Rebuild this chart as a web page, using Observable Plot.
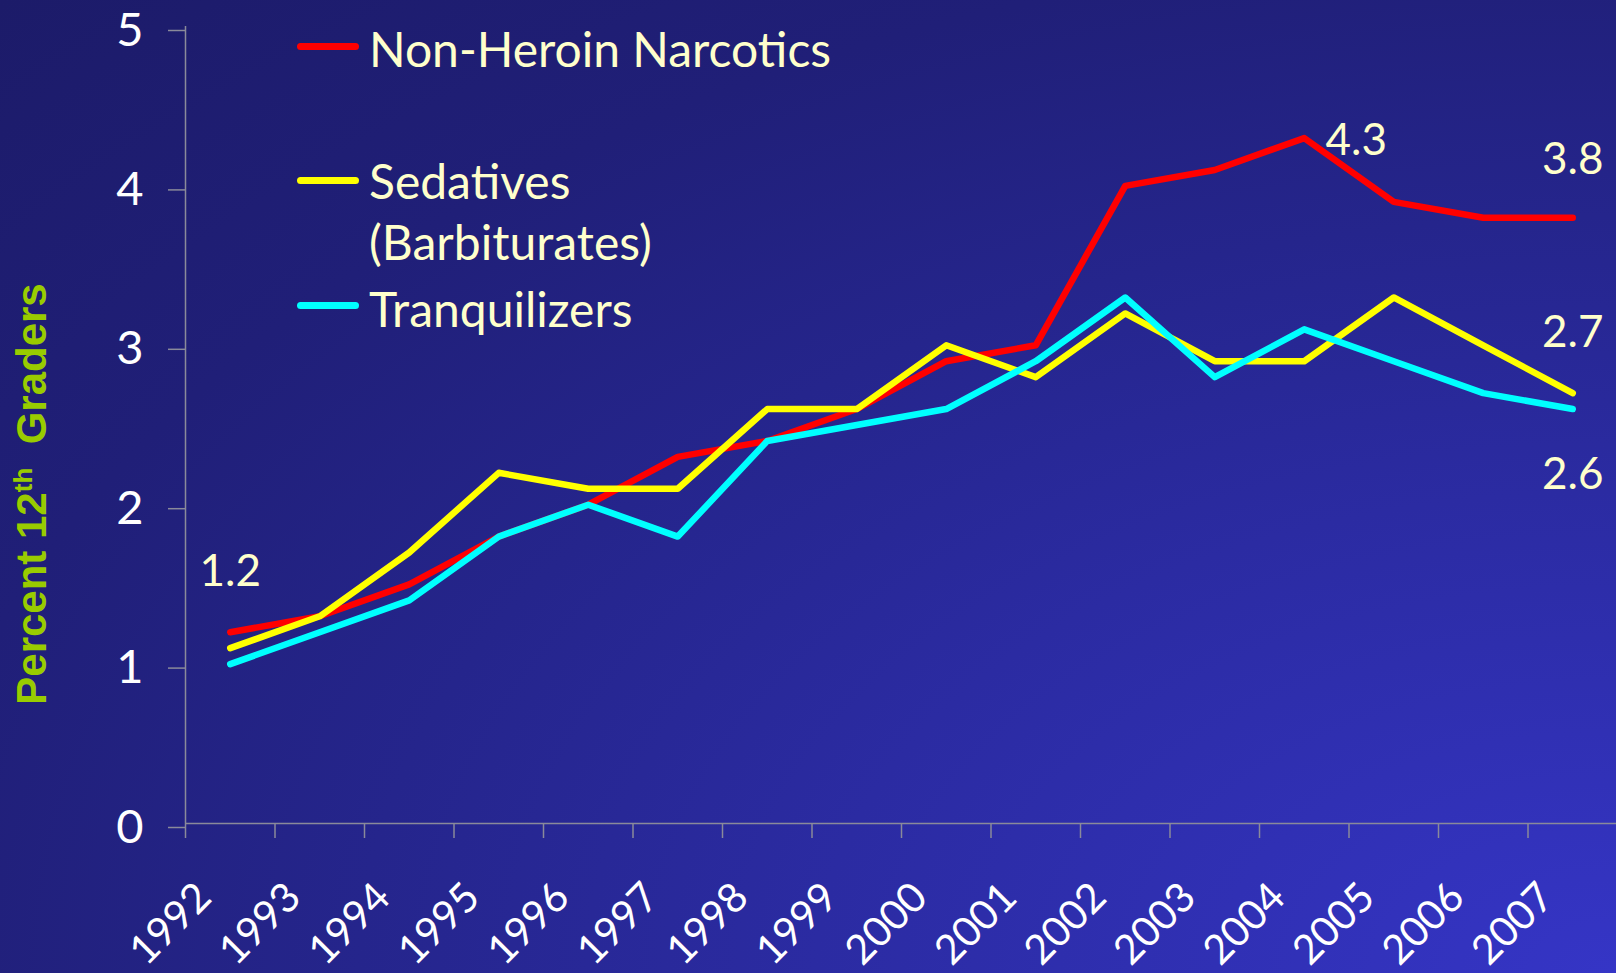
<!DOCTYPE html>
<html>
<head>
<meta charset="utf-8">
<script src="https://cdn.jsdelivr.net/npm/d3@7"></script>
<script src="https://cdn.jsdelivr.net/npm/@observablehq/plot@0.6"></script>
<style>
  html, body { margin: 0; padding: 0; width: 1616px; height: 973px; overflow: hidden; }
  body {
    background: radial-gradient(ellipse farthest-corner at 100% 100%, #3535C6 0%, #2B2BA2 35%, #25258C 55%, #201F78 75%, #1C1B69 100%);
    font-family: Lato, "Open Sans", sans-serif;
    position: relative;
  }
  #chart { position: absolute; left: 0; top: 0; }
  #ytitle {
    position: absolute; left: 32px; top: 494px;
    transform: translate(-50%, -50%) rotate(-90deg);
    white-space: pre; color: #99CC00;
    font-family: "Liberation Sans", Arial, sans-serif; font-weight: bold; font-size: 42px;
  }
  #ytitle sup { font-size: 0.62em; vertical-align: 0.55em; line-height: 0; }
  .leg { position: absolute; color: #FFFFCC; font-family: Lato, sans-serif; font-size: 48px; line-height: 61px; white-space: pre; }
  .sw { position: absolute; height: 7px; border-radius: 4px; width: 62px; }
</style>
</head>
<body>
<div id="chart"></div>
<div id="ytitle">Percent 12<sup>th</sup>  Graders</div>
<div id="legend"></div>
<script>
const years = [1992, 1993, 1994, 1995, 1996, 1997, 1998, 1999, 2000, 2001, 2002, 2003, 2004, 2005, 2006, 2007];
const narcotics     = [1.2, 1.3, 1.5, 1.8, 2.0, 2.3, 2.4, 2.6, 2.9, 3.0, 4.0, 4.1, 4.3, 3.9, 3.8, 3.8];
const sedatives     = [1.1, 1.3, 1.7, 2.2, 2.1, 2.1, 2.6, 2.6, 3.0, 2.8, 3.2, 2.9, 2.9, 3.3, 3.0, 2.7];
const tranquilizers = [1.0, 1.2, 1.4, 1.8, 2.0, 1.8, 2.4, 2.5, 2.6, 2.9, 3.3, 2.8, 3.1, 2.9, 2.7, 2.6];
const seriesNames  = ["Non-Heroin Narcotics", "Sedatives\n(Barbiturates)", "Tranquilizers"];
const seriesColors = ["#FF0000", "#FFFF00", "#00FFFF"];
const yTicks = [0, 1, 2, 3, 4, 5];

// value annotations
const annYears  = [1992, 2004, 2007, 2007, 2007];
const annValues = [1.2, 4.3, 3.8, 2.7, 2.6];
const annDx     = [0, 52, 0, 0, 0];
const annDy     = [-60, 3, -58, -60, 66];

const seriesValues = [narcotics, sedatives, tranquilizers];
const rows = [];
seriesValues.forEach((vals, s) => vals.forEach((v, i) => rows.push({series: seriesNames[s], year: years[i], value: v})));
const ann = annYears.map((y, i) => ({year: y, value: annValues[i], label: annValues[i].toFixed(1), dx: annDx[i], dy: annDy[i]}));
const boundaries = years.map(y => y - 0.5);

const annMarks = ann.map(a => Plot.text([a], {
  x: "year", y: "value", text: "label", dx: a.dx, dy: a.dy,
  fill: "#FFFFCC", fontSize: 44, fontFamily: "Lato, sans-serif", textAnchor: "middle", lineAnchor: "middle"
}));

const chart = Plot.plot({
  width: 1616,
  height: 973,
  marginLeft: 185,
  marginRight: 0,
  marginTop: 26,
  marginBottom: 150,
  style: {background: "transparent", overflow: "visible"},
  x: {type: "linear", domain: [years[0] - 0.5, years[years.length - 1] + 0.5], range: [185, 1617]},
  y: {domain: [0, 5], range: [823, 26]},
  color: {domain: seriesNames, range: seriesColors},
  marks: [
    Plot.ruleX([years[0] - 0.5], {y1: 0, y2: 5, stroke: "#8A8A9A", strokeWidth: 1.5}),
    Plot.ruleY([0], {stroke: "#8A8A9A", strokeWidth: 1.5}),
    Plot.axisY({ticks: yTicks, tickSize: 17, tickPadding: 25, tickFormat: d => String(d), fontSize: 47, fontFamily: "Lato, sans-serif",
      stroke: "#8A8A9A", fill: "white", strokeWidth: 1.5, label: null, dy: 4}),
    Plot.axisX({ticks: boundaries, tickSize: 15, tickFormat: () => "", stroke: "#8A8A9A", strokeWidth: 1.5, label: null}),
    Plot.axisX({ticks: years, tickSize: 0, tickPadding: 0, tickRotate: -45, tickFormat: d => String(d),
      fontSize: 41, fontFamily: "Lato, sans-serif", fill: "white", label: null, dx: -26, dy: 67}),
    Plot.line(rows, {x: "year", y: "value", stroke: "series", z: "series", strokeWidth: 6.5,
      strokeLinecap: "round", strokeLinejoin: "round"}),
    ...annMarks
  ]
});
document.getElementById("chart").appendChild(chart);

// legend overlay
const legTop = [18, 150, 278];
const swTop  = [43, 177, 302];
const legend = document.getElementById("legend");
seriesNames.forEach((name, i) => {
  const sw = document.createElement("div");
  sw.className = "sw";
  sw.style.left = "297px";
  sw.style.top = swTop[i] + "px";
  sw.style.background = seriesColors[i];
  legend.appendChild(sw);
  const t = document.createElement("div");
  t.className = "leg";
  t.style.left = "369px";
  t.style.top = legTop[i] + "px";
  t.textContent = name;
  legend.appendChild(t);
});
</script>
</body>
</html>
